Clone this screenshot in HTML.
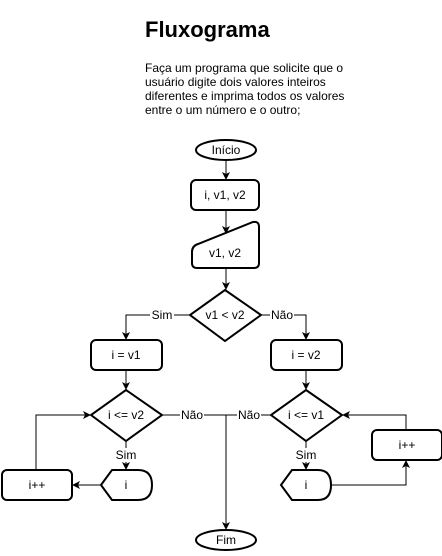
<!DOCTYPE html>
<html><head><style>
body{margin:0;background:#fff;width:442px;height:551px;overflow:hidden}
text{font-family:"Liberation Sans",Arial,sans-serif;font-size:12px;fill:#000}
</style></head><body>
<svg width="442" height="551" xmlns="http://www.w3.org/2000/svg">
<defs><marker id="a" markerWidth="8" markerHeight="8" refX="7" refY="4" orient="auto" markerUnits="userSpaceOnUse"><path d="M0,0 L8,4 L0,8 L2,4 z" fill="#000"/></marker></defs>
<text x="145" y="37" style="font-size:22px;font-weight:bold">Fluxograma</text>
<text x="145" y="72">Faça um programa que solicite que o</text>
<text x="145" y="86">usuário digite dois valores inteiros</text>
<text x="145" y="100">diferentes e imprima todos os valores</text>
<text x="145" y="114">entre o um número e o outro;</text>
<g fill="none" stroke="#000" stroke-width="2">
<ellipse cx="226" cy="150" rx="30" ry="10"/>
<rect x="191" y="180" width="68" height="30" rx="5"/>
<path d="M192,252 Q192,246 198,244 L253,222 Q259,221 259,227 L259,263 Q259,268 254,268 L197,268 Q192,268 192,263 Z"/>
<path d="M225,290 L261,315 L225,341 L190,315 Z"/>
<rect x="91" y="340" width="71" height="30" rx="5"/>
<rect x="271" y="340" width="71" height="30" rx="5"/>
<path d="M126,390 L162,415 L126,441 L91,415 Z"/>
<path d="M306,390 L342,415 L306,441 L271,415 Z"/>
<path d="M101,485 L112,470 L138,470 Q152,470 152,485 Q152,500 138,500 L112,500 Z"/>
<rect x="2" y="470" width="70" height="30" rx="5"/>
<path d="M281,485 L292,470 L318,470 Q331,470 331,485 Q331,500 318,500 L292,500 Z"/>
<rect x="372" y="430" width="70" height="30" rx="5"/>
<ellipse cx="226" cy="540" rx="30" ry="10"/>
</g>
<g fill="none" stroke="#000" stroke-width="1">
<path d="M226,160 L226,179" marker-end="url(#a)"/>
<path d="M226,210 L226,233" marker-end="url(#a)"/>
<path d="M226,268 L226,289" marker-end="url(#a)"/>
<path d="M190,315 L126,315 L126,339" marker-end="url(#a)"/>
<path d="M261,315 L306,315 L306,339" marker-end="url(#a)"/>
<path d="M126,370 L126,389" marker-end="url(#a)"/>
<path d="M306,370 L306,389" marker-end="url(#a)"/>
<path d="M162,415 L226,415 L226,529" marker-end="url(#a)"/>
<path d="M271,415 L226,415"/>
<path d="M126,441 L126,469" marker-end="url(#a)"/>
<path d="M306,441 L306,469" marker-end="url(#a)"/>
<path d="M101,485 L73,485" marker-end="url(#a)"/>
<path d="M36,470 L36,415 L90,415" marker-end="url(#a)"/>
<path d="M331,485 L406,485 L406,461" marker-end="url(#a)"/>
<path d="M406,430 L406,415 L343,415" marker-end="url(#a)"/>
</g>
<g text-anchor="middle">
<rect x="150" y="308" width="24" height="14" fill="#fff"/>
<text x="162" y="319">Sim</text>
<rect x="270" y="308" width="24" height="14" fill="#fff"/>
<text x="282" y="319">Não</text>
<rect x="180" y="408" width="24" height="14" fill="#fff"/>
<text x="192" y="419">Não</text>
<rect x="237" y="408" width="24" height="14" fill="#fff"/>
<text x="249" y="419">Não</text>
<rect x="114" y="448" width="24" height="14" fill="#fff"/>
<text x="126" y="459">Sim</text>
<rect x="294" y="448" width="24" height="14" fill="#fff"/>
<text x="306" y="459">Sim</text>
<text x="226" y="154">Início</text>
<text x="225" y="199">i, v1, v2</text>
<text x="225" y="257">v1, v2</text>
<text x="225" y="319">v1 &lt; v2</text>
<text x="126" y="359">i = v1</text>
<text x="306" y="359">i = v2</text>
<text x="126" y="419">i &lt;= v2</text>
<text x="306" y="419">i &lt;= v1</text>
<text x="126" y="489">i</text>
<text x="306" y="489">i</text>
<text x="37" y="489">i++</text>
<text x="407" y="449">i++</text>
<text x="226" y="544">Fim</text>
</g>
</svg>
</body></html>
